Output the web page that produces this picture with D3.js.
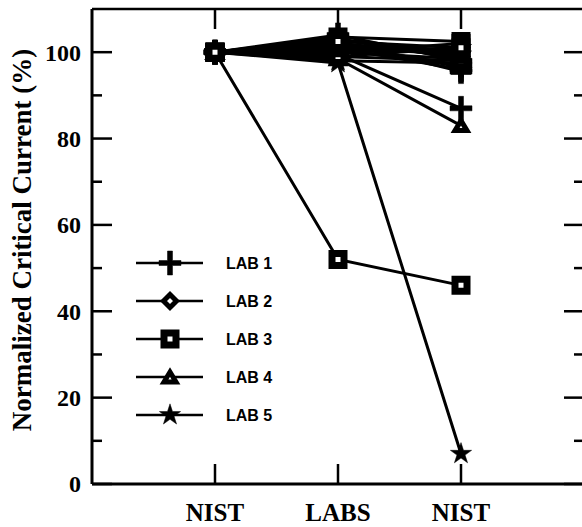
<!DOCTYPE html>
<html>
<head>
<meta charset="utf-8">
<script src="https://cdn.jsdelivr.net/npm/d3@7"></script>
<style>
  body { margin: 0; background: #fff; }
  svg { display: block; }
</style>
</head>
<body>
<div id="chart"></div>
<script>
// x categories (measurement sequence)
const stages = ["NIST", "LABS", "NIST"];
const yTicks = [0, 20, 40, 60, 80, 100];
const yMinor = [10, 30, 50, 70, 90];

// normalized critical current (%) per specimen, one array per lab
const lab1 = [[100, 101, 96], [100, 99.5, 87], [100, 104, 98], [100, 100.5, 97], [100, 102.5, 95.5]];
const lab2 = [[100, 102, 99], [100, 101, 100], [100, 99, 101], [100, 103, 98.5]];
const lab4 = [[100, 98.5, 83], [100, 101.5, 97], [100, 103, 100], [100, 100, 98.5], [100, 102, 96.5]];
const lab5 = [[100, 97.5, 7], [100, 102, 99.5], [100, 100, 101], [100, 98, 97.5]];
const lab3 = [[100, 52, 46], [100, 103.5, 102.5], [100, 100, 102], [100, 99, 98], [100, 101, 99.5], [100, 102.5, 101]];

const labNames = ["LAB 1", "LAB 2", "LAB 3", "LAB 4", "LAB 5"];
const labMarks = ["plus", "diamond", "square", "triangle", "star"];
// drawing order: lab 3 on top
const drawOrder = [
  {data: lab1, mark: "plus"},
  {data: lab2, mark: "diamond"},
  {data: lab4, mark: "triangle"},
  {data: lab5, mark: "star"},
  {data: lab3, mark: "square"}
];

const width = 582, height = 527;
const svg = d3.select("#chart").append("svg")
  .attr("width", width).attr("height", height);

const x = d3.scaleLinear().domain([0, 4]).range([92, 584]);
const y = d3.scaleLinear().domain([0, 110]).range([484, 9]);

// frame
const fr = svg.append("g").attr("stroke", "#000").attr("fill", "none");
fr.append("line").attr("x1", x(0)).attr("x2", x(0)).attr("y1", y(110)).attr("y2", y(0)).attr("stroke-width", 3);
fr.append("line").attr("x1", x(0)).attr("x2", x(4)).attr("y1", y(0)).attr("y2", y(0)).attr("stroke-width", 3);
fr.append("line").attr("x1", x(0)).attr("x2", x(4)).attr("y1", y(110)).attr("y2", y(110)).attr("stroke-width", 2.5);
fr.append("line").attr("x1", x(4)).attr("x2", x(4)).attr("y1", y(110)).attr("y2", y(0)).attr("stroke-width", 3);

// y ticks (inward, both sides)
yTicks.forEach(v => {
  fr.append("line").attr("x1", x(0)).attr("x2", x(0) + 20).attr("y1", y(v)).attr("y2", y(v)).attr("stroke-width", 2.5);
  fr.append("line").attr("x1", x(4)).attr("x2", x(4) - 20).attr("y1", y(v)).attr("y2", y(v)).attr("stroke-width", 2.5);
});
yMinor.forEach(v => {
  fr.append("line").attr("x1", x(0)).attr("x2", x(0) + 10).attr("y1", y(v)).attr("y2", y(v)).attr("stroke-width", 2.5);
  fr.append("line").attr("x1", x(4)).attr("x2", x(4) - 10).attr("y1", y(v)).attr("y2", y(v)).attr("stroke-width", 2.5);
});
// x ticks top and bottom
stages.forEach((s, i) => {
  fr.append("line").attr("x1", x(i + 1)).attr("x2", x(i + 1)).attr("y1", y(0)).attr("y2", y(0) - 20).attr("stroke-width", 2.5);
  fr.append("line").attr("x1", x(i + 1)).attr("x2", x(i + 1)).attr("y1", y(110)).attr("y2", y(110) + 20).attr("stroke-width", 2.5);
});

const serif = "'Liberation Serif', 'Times New Roman', serif";
svg.append("g").selectAll("text").data(yTicks).join("text")
  .attr("x", 81).attr("y", d => y(d)).attr("dy", "0.35em")
  .attr("text-anchor", "end")
  .attr("font-family", serif).attr("font-weight", "bold").attr("font-size", 24)
  .text(d => d);

svg.append("g").selectAll("text").data(stages).join("text")
  .attr("x", (d, i) => x(i + 1)).attr("y", 521)
  .attr("text-anchor", "middle")
  .attr("font-family", serif).attr("font-weight", "bold").attr("font-size", 25)
  .text(d => d);

svg.append("text")
  .attr("transform", "translate(31," + 240 + ") rotate(-90)")
  .attr("text-anchor", "middle")
  .attr("font-family", serif).attr("font-weight", "bold").attr("font-size", 27)
  .text("Normalized Critical Current (%)");

// marker shapes
function markerPath(type) {
  switch (type) {
    case "plus":
      return "M-11,-2.5H-2.5V-12H2.5V-2.5H11V2.5H2.5V12H-2.5V2.5H-11Z";
    case "diamond":
      return "M0,-6.5L6.5,0L0,6.5L-6.5,0Z";
    case "square":
      return "M-6,-6H6V6H-6Z";
    case "triangle":
      return "M0,-5L6,5H-6Z";
    case "star":
      return d3.symbol(d3.symbolStar, 140)();
  }
}
function drawMarker(g, type, cx, cy) {
  const p = g.append("path").attr("d", markerPath(type))
    .attr("transform", "translate(" + cx + "," + cy + ")")
    .attr("stroke", "#000").attr("stroke-linejoin", "miter");
  if (type === "plus" || type === "star") {
    p.attr("fill", "#000").attr("stroke-width", 0.5);
  } else if (type === "square") {
    p.attr("fill", "#fff").attr("stroke-width", 7);
  } else {
    p.attr("fill", "#fff").attr("stroke-width", 5);
  }
}

const line = d3.line().x((d, i) => x(i + 1)).y(d => y(d));
const plot = svg.append("g");
drawOrder.forEach(lab => {
  lab.data.forEach(spec => {
    plot.append("path").datum(spec).attr("d", line)
      .attr("fill", "none").attr("stroke", "#000").attr("stroke-width", 3);
  });
});
drawOrder.forEach(lab => {
  lab.data.forEach(spec => {
    spec.forEach((v, i) => drawMarker(plot, lab.mark, x(i + 1), y(v)));
  });
});

// legend
const leg = svg.append("g");
const legY = d3.scaleLinear().domain([0, 4]).range([263, 415]);
labNames.forEach((name, i) => {
  leg.append("line").attr("x1", 136).attr("x2", 203).attr("y1", legY(i)).attr("y2", legY(i))
    .attr("stroke", "#000").attr("stroke-width", 2.5);
  drawMarker(leg, labMarks[i], 170, legY(i));
  leg.append("text").attr("x", 226).attr("y", legY(i)).attr("dy", "0.36em")
    .attr("font-family", "'Liberation Sans', Arial, sans-serif").attr("font-weight", 900)
    .attr("font-size", 16).text(name);
});
</script>
</body>
</html>
